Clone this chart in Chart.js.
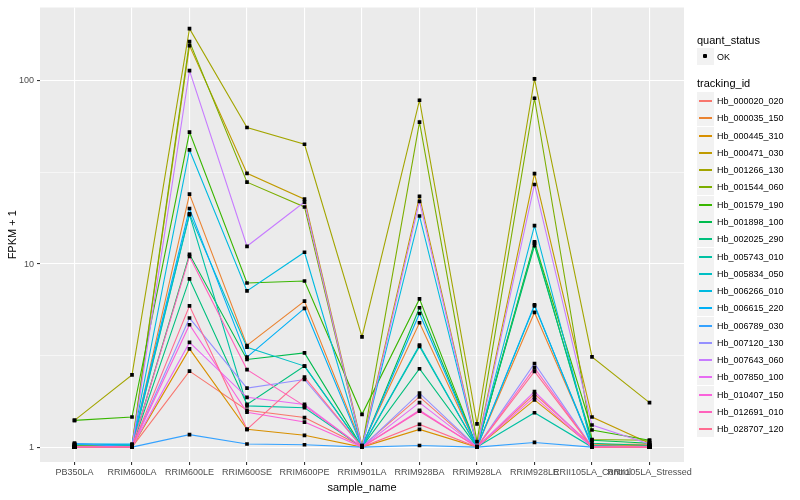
<!DOCTYPE html>
<html>
<head>
<meta charset="utf-8">
<script src="https://cdn.jsdelivr.net/npm/chart.js@4.4.1/dist/chart.umd.min.js"></script>
<style>
  body { margin: 0; background: #fff; font-family: "Liberation Sans", Arial, sans-serif; }
  #wrap { position: relative; width: 800px; height: 500px; }
  #legend { position: absolute; left: 697px; top: 0; color: #000; }
  .ltitle { position: absolute; font-size: 11px; white-space: nowrap; }
  .lrow { position: absolute; height: 17px; display: flex; align-items: center; white-space: nowrap; font-size: 9px; }
  .lkey { width: 17px; height: 17px; background: #F2F2F2; position: relative; margin-right: 3px; }
  .lkey .ln { position: absolute; left: 2px; right: 2px; top: 8px; height: 2px; }
  .lkey .pt { position: absolute; left: 6px; top: 6px; width: 4px; height: 4px; background: #000; border-radius: 1px; }
</style>
</head>
<body>
<div id="wrap">
  <canvas id="fpkmChart" width="800" height="500"></canvas>
  <div id="legend"></div>
</div>
<script>
// Samples on the x axis
const samples = ["PB350LA", "RRIM600LA", "RRIM600LE", "RRIM600SE", "RRIM600PE", "RRIM901LA",
                 "RRIM928BA", "RRIM928LA", "RRIM928LE", "RRII105LA_Control", "RRII105LA_Stressed"];

// FPKM + 1 per tracking_id, one value per sample
const hb_000020_020 = [1.00, 1.00, 2.60, 1.59, 1.45, 1.01, 1.88, 1.00, 1.95, 1.02, 1.03];
const hb_000035_150 = [1.02, 1.01, 24.1, 3.59, 6.27, 1.02, 4.78, 1.00, 5.44, 1.03, 1.04];
const hb_000445_310 = [1.00, 1.00, 3.44, 1.25, 1.16, 1.00, 1.25, 1.00, 1.81, 1.01, 1.02];
const hb_000471_030 = [1.00, 1.02, 156, 31.3, 22.6, 1.02, 23.4, 1.01, 31.2, 1.46, 1.05];
const hb_001266_130 = [1.40, 2.48, 193, 55.7, 45.1, 4.00, 78.5, 1.34, 102.6, 3.11, 1.75];
const hb_001544_060 = [1.02, 1.03, 164, 28.0, 20.5, 1.00, 59.6, 1.07, 80.5, 1.10, 1.09];
const hb_001579_190 = [1.40, 1.46, 52.6, 7.88, 8.08, 1.51, 6.45, 1.00, 13.2, 1.24, 1.09];
const hb_001898_100 = [1.00, 1.00, 11.3, 3.01, 3.27, 1.00, 5.77, 1.00, 12.6, 1.09, 1.05];
const hb_002025_290 = [1.00, 1.00, 8.29, 1.71, 2.77, 1.00, 2.68, 1.00, 13.0, 1.05, 1.02];
const hb_005743_010 = [1.00, 1.00, 18.6, 1.68, 1.64, 1.00, 3.55, 1.00, 1.54, 1.00, 1.00];
const hb_005834_050 = [1.03, 1.02, 18.8, 3.51, 2.77, 1.00, 3.61, 1.00, 5.91, 1.02, 1.00];
const hb_006266_010 = [1.04, 1.03, 42.0, 7.13, 11.6, 1.00, 18.3, 1.00, 16.2, 1.01, 1.00];
const hb_006615_220 = [1.04, 1.04, 20.1, 3.10, 5.72, 1.00, 5.37, 1.00, 5.99, 1.00, 1.00];
const hb_006789_030 = [1.05, 1.00, 1.17, 1.04, 1.03, 1.00, 1.02, 1.00, 1.06, 1.00, 1.00];
const hb_007120_130 = [1.00, 1.00, 5.07, 2.10, 2.34, 1.00, 1.97, 1.00, 2.86, 1.00, 1.01];
const hb_007643_060 = [1.00, 1.00, 114, 12.5, 21.8, 1.00, 22.0, 1.00, 27.2, 1.32, 1.04];
const hb_007850_100 = [1.00, 1.00, 3.73, 1.87, 1.71, 1.00, 1.75, 1.00, 2.01, 1.00, 1.00];
const hb_010407_150 = [1.00, 1.00, 4.66, 1.55, 1.37, 1.00, 1.59, 1.00, 1.88, 1.00, 1.00];
const hb_012691_010 = [1.00, 1.00, 11.0, 2.65, 1.68, 1.00, 1.57, 1.00, 2.71, 1.00, 1.00];
const hb_028707_120 = [1.00, 1.00, 5.91, 1.25, 2.41, 1.00, 1.33, 1.00, 2.59, 1.00, 1.00];

const trackingIds = ["Hb_000020_020", "Hb_000035_150", "Hb_000445_310", "Hb_000471_030", "Hb_001266_130",
                     "Hb_001544_060", "Hb_001579_190", "Hb_001898_100", "Hb_002025_290", "Hb_005743_010",
                     "Hb_005834_050", "Hb_006266_010", "Hb_006615_220", "Hb_006789_030", "Hb_007120_130",
                     "Hb_007643_060", "Hb_007850_100", "Hb_010407_150", "Hb_012691_010", "Hb_028707_120"];
const seriesValues = [hb_000020_020, hb_000035_150, hb_000445_310, hb_000471_030, hb_001266_130,
                      hb_001544_060, hb_001579_190, hb_001898_100, hb_002025_290, hb_005743_010,
                      hb_005834_050, hb_006266_010, hb_006615_220, hb_006789_030, hb_007120_130,
                      hb_007643_060, hb_007850_100, hb_010407_150, hb_012691_010, hb_028707_120];

const majorTicks = [1, 10, 100];
const minorTicks = [3.1623, 31.623];

// ggplot default hue palette for 20 groups
const palette = ["#F8766D", "#EA8331", "#D89000", "#C09B00", "#A3A500", "#7CAE00", "#39B600", "#00BB4E",
                 "#00BF7D", "#00C1A3", "#00BFC4", "#00BAE0", "#00B0F6", "#35A2FF", "#9590FF", "#C77CFF",
                 "#E76BF3", "#FA62DB", "#FF62BC", "#FF6C91"];

const toPoints = vals => vals.map((v, i) => ({ x: i, y: v }));

// lines first (later group on top, like ggplot), points on top of everything
const datasets = seriesValues.map((vals, k) => ({
    type: "line",
    label: trackingIds[k],
    data: toPoints(vals),
    borderColor: palette[k],
    borderWidth: 1.1,
    pointRadius: 0,
    fill: false,
    tension: 0,
    order: seriesValues.length - k
}));
datasets.push({
    type: "scatter",
    label: "OK",
    data: seriesValues.flatMap(vals => toPoints(vals)),
    pointStyle: "rect",
    pointRadius: 2.6,
    pointBackgroundColor: "#000",
    pointBorderWidth: 0,
    showLine: false,
    order: 0
});

const panelBg = {
    id: "panelBg",
    beforeDraw(chart) {
        const { ctx, chartArea: a } = chart;
        ctx.save();
        ctx.fillStyle = "#EBEBEB";
        ctx.fillRect(a.left, a.top, a.right - a.left, a.bottom - a.top);
        ctx.restore();
    }
};

const isMajor = v => majorTicks.some(m => Math.abs(m - v) < 1e-6);

new Chart(document.getElementById("fpkmChart"), {
    data: { datasets },
    options: {
        responsive: false,
        animation: false,
        layout: { padding: { left: 2, right: 116, top: 0, bottom: 0 } },
        plugins: { legend: { display: false }, tooltip: { enabled: false } },
        scales: {
            x: {
                type: "linear",
                min: -0.6,
                max: 10.6,
                afterBuildTicks: scale => { scale.ticks = samples.map((s, i) => ({ value: i })); },
                afterFit: scale => { scale.height = 38; },
                ticks: {
                    autoSkip: false, maxRotation: 0, minRotation: 0, padding: 2,
                    color: "#4D4D4D", font: { family: "Liberation Sans", size: 9 },
                    callback: v => samples[v]
                },
                grid: { color: "#FFFFFF", lineWidth: 1.1, tickLength: 3, tickColor: "#333333" },
                border: { display: false },
                title: { display: true, text: "sample_name", color: "#000", font: { family: "Liberation Sans", size: 11 }, padding: { top: 2, bottom: 5 } }
            },
            y: {
                type: "logarithmic",
                min: 0.829,
                max: 252,
                afterBuildTicks: scale => {
                    scale.ticks = [1, minorTicks[0], 10, minorTicks[1], 100].map(v => ({ value: v }));
                },
                afterFit: scale => { scale.width = 38; },
                ticks: {
                    padding: 3, color: "#4D4D4D", font: { family: "Liberation Sans", size: 9, lineHeight: 1 },
                    callback: v => isMajor(v) ? String(Math.round(v)) : ""
                },
                grid: {
                    color: "#FFFFFF",
                    lineWidth: c => isMajor(c.tick.value) ? 1.1 : 0.55,
                    tickLength: 3,
                    tickColor: c => isMajor(c.tick.value) ? "#333333" : "rgba(0,0,0,0)"
                },
                border: { display: false },
                title: { display: true, text: "FPKM + 1", color: "#000", font: { family: "Liberation Sans", size: 11 }, padding: { top: 4, bottom: 2 } }
            }
        }
    },
    plugins: [panelBg]
});

// legend, built from the same names and colours
const legend = document.getElementById("legend");
let html = '<div class="ltitle" style="top:34px">quant_status</div>';
html += '<div class="lrow" style="top:48px"><div class="lkey"><div class="pt"></div></div>OK</div>';
html += '<div class="ltitle" style="top:77px">tracking_id</div>';
trackingIds.forEach((id, k) => {
    const top = Math.round(92 + k * 17.28);
    html += `<div class="lrow" style="top:${top}px"><div class="lkey"><div class="ln" style="background:${palette[k]}"></div></div>${id}</div>`;
});
legend.innerHTML = html;
</script>
</body>
</html>
